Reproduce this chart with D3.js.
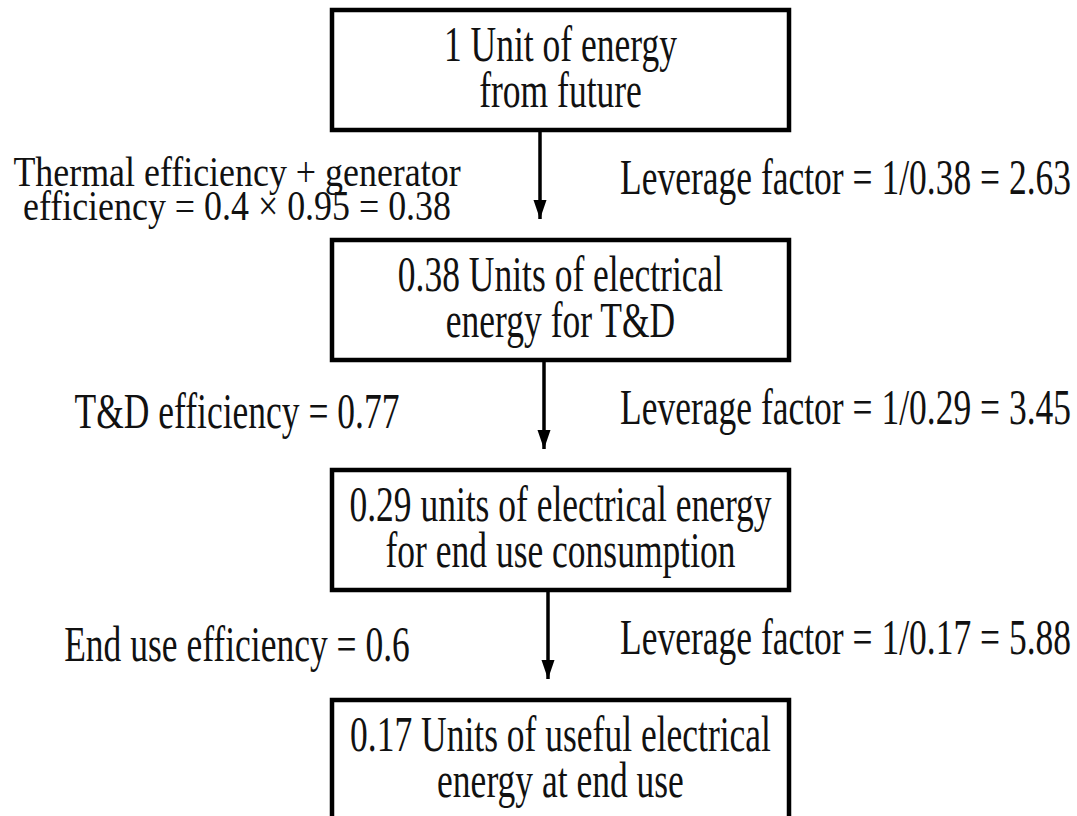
<!DOCTYPE html>
<html>
<head>
<meta charset="utf-8">
<script src="https://cdn.jsdelivr.net/npm/d3@7"></script>
<style>
    html, body { margin: 0; padding: 0; background: #fff; }
    svg { display: block; }
</style>
</head>
<body>
<svg id="chart" width="1077" height="816"></svg>
<script>
// Box captions, top to bottom.
var boxLines = [
    ['1 Unit of energy', 'from future'],
    ['0.38 Units of electrical', 'energy for T&D'],
    ['0.29 units of electrical energy', 'for end use consumption'],
    ['0.17 Units of useful electrical', 'energy at end use']
];

// Efficiency notes, left of each arrow.
var efficiencyLines = [
    ['Thermal efficiency + generator', 'efficiency = 0.4 \u00d7 0.95 = 0.38'],
    ['T&D efficiency = 0.77'],
    ['End use efficiency = 0.6']
];

// Leverage notes, right of each arrow.
var leverageLines = [
    'Leverage factor = 1/0.38 = 2.63',
    'Leverage factor = 1/0.29 = 3.45',
    'Leverage factor = 1/0.17 = 5.88'
];

// Layout.
var boxLeft = 332;
var boxRight = 789;
var boxHeight = 120;
var arrowX = [540, 544, 548];
var leftX = 237;
var rightX = 620;
var leftDy = [1, 13, 16];
var fontSize = 50;
var squeeze = 0.71;

var y = d3.scaleLinear()
    .domain([0, boxLines.length - 1])
    .range([10, 700]);

var svg = d3.select('#chart');

// Draws one squeezed line of text (the source font is very narrow).
function addText(g, text, x, yy, anchor, size, sx) {
    g.append('text')
        .attr('transform', 'translate(' + x + ',' + yy + ') scale(' + (sx || squeeze) + ',1)')
        .attr('text-anchor', anchor)
        .style('font-family', '"Liberation Serif", "Times New Roman", serif')
        .style('font-size', (size || fontSize) + 'px')
        .style('fill', '#111')
        .text(text);
}

// Boxes.
var box = svg.selectAll('g.box')
    .data(boxLines)
    .enter()
    .append('g')
    .attr('class', 'box');

box.append('rect')
    .attr('x', boxLeft)
    .attr('y', function (d, i) {
        return y(i);
    })
    .attr('width', boxRight - boxLeft)
    .attr('height', boxHeight)
    .style('fill', 'none')
    .style('stroke', '#000')
    .style('stroke-width', 4.5);

box.each(function (lines, i) {
    var g = d3.select(this);
    var cx = (boxLeft + boxRight) / 2;
    lines.forEach(function (line, k) {
        addText(g, line, cx, y(i) + 51 + k * 46, 'middle');
    });
});

// Arrows between boxes.
var arrow = svg.selectAll('g.arrow')
    .data(d3.range(boxLines.length - 1))
    .enter()
    .append('g')
    .attr('class', 'arrow');

arrow.append('line')
    .attr('x1', function (d) { return arrowX[d]; })
    .attr('x2', function (d) { return arrowX[d]; })
    .attr('y1', function (d) { return y(d) + boxHeight; })
    .attr('y2', function (d) { return y(d + 1) - 21; })
    .style('stroke', '#000')
    .style('stroke-width', 3.5);

arrow.append('path')
    .attr('d', function (d) {
        var x = arrowX[d];
        var tip = y(d + 1) - 21;
        return 'M' + (x - 6.5) + ',' + (tip - 19) +
            'L' + (x + 6.5) + ',' + (tip - 19) +
            'L' + x + ',' + tip + 'Z';
    })
    .style('fill', '#000');

// Side notes.
arrow.each(function (d) {
    var g = d3.select(this);
    var mid = (y(d) + boxHeight + y(d + 1)) / 2;
    var lines = efficiencyLines[d];
    // The two-line note is set a little smaller in the source.
    var size = lines.length > 1 ? 43 : fontSize;
    var sx = lines.length > 1 ? 0.835 : squeeze;

    lines.forEach(function (line, k) {
        addText(g, line, leftX, mid + leftDy[d] + k * 34, 'middle', size, sx);
    });

    addText(g, leverageLines[d], rightX, mid + 9, 'start');
});
</script>
</body>
</html>
